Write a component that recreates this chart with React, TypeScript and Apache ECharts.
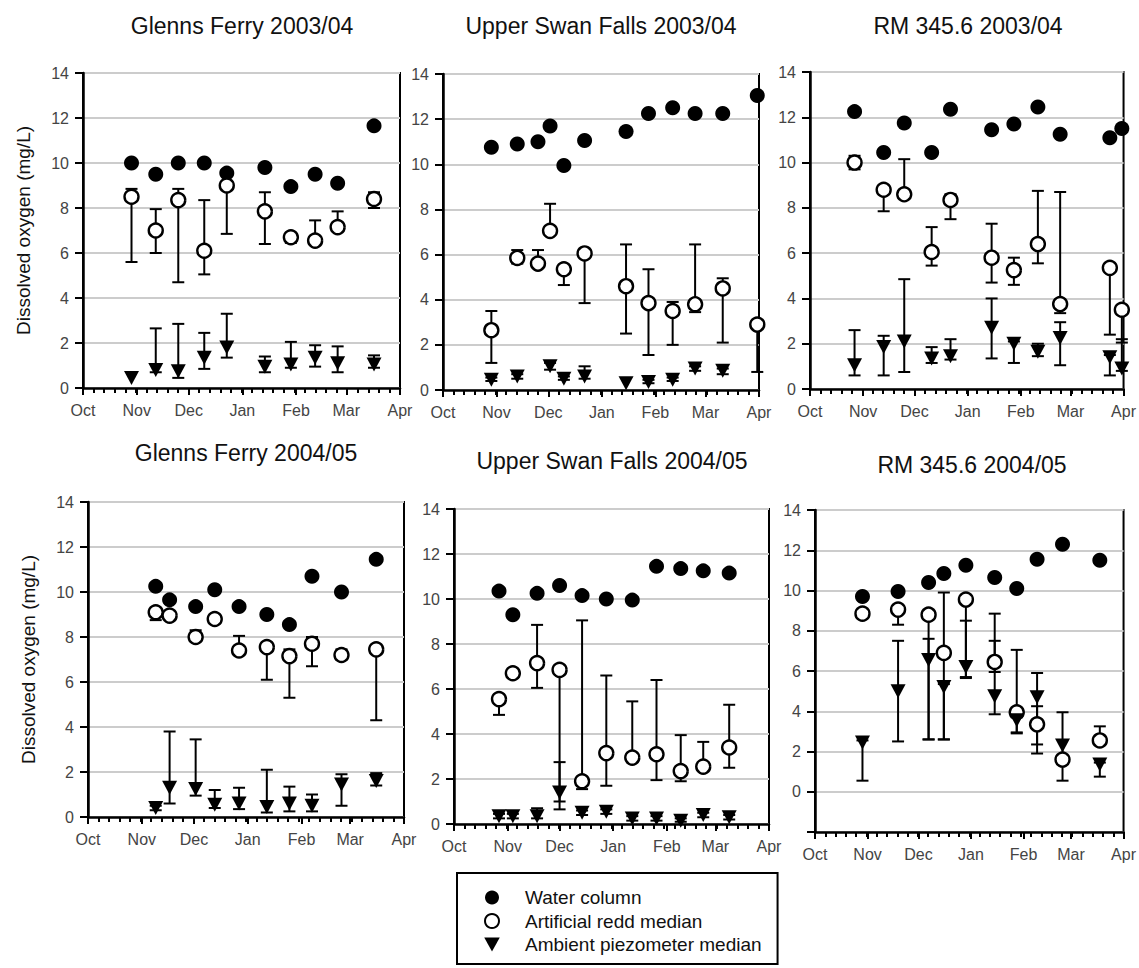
import React, { useEffect, useRef } from 'react';
import * as echarts from 'echarts';

// ---------- DATA ----------
const MONTHS = ['Jan', 'Feb', 'Mar', 'Apr', 'May', 'Jun', 'Jul', 'Aug', 'Sep', 'Oct', 'Nov', 'Dec'];
const SERIES_NAMES = ['Water column', 'Artificial redd median', 'Ambient piezometer median'];
const Y_NAME = 'Dissolved oxygen (mg/L)';

// Glenns Ferry 2003/04
const gf03Dates = ['2003-10-29', '2003-11-12', '2003-11-25', '2003-12-10', '2003-12-23', '2004-01-14', '2004-01-29', '2004-02-12', '2004-02-25', '2004-03-17'];
const gf03Water = [10.0, 9.5, 10.0, 10.0, 9.55, 9.8, 8.95, 9.5, 9.1, 11.65];
const gf03Redd = [8.5, 7.0, 8.35, 6.1, 9.0, 7.85, 6.7, 6.55, 7.15, 8.4];
const gf03ReddHi = [8.85, 7.95, 8.85, 8.35, 9.1, 8.7, 6.8, 7.45, 7.85, 8.7];
const gf03ReddLo = [5.6, 6.0, 4.7, 5.05, 6.85, 6.4, 6.45, 6.5, 7.0, 8.0];
const gf03Piezo = [0.45, 0.8, 0.75, 1.35, 1.8, 0.95, 1.05, 1.35, 1.1, 1.05];
const gf03PiezoHi = [null, 2.65, 2.85, 2.45, 3.3, 1.4, 2.05, 1.9, 1.85, 1.45];
const gf03PiezoLo = [null, 0.7, 0.45, 0.85, 1.35, 0.7, 0.9, 0.95, 0.7, 0.9];

// Upper Swan Falls 2003/04
const usf03Dates = ['2003-10-29', '2003-11-13', '2003-11-25', '2003-12-02', '2003-12-10', '2003-12-22', '2004-01-15', '2004-01-28', '2004-02-11', '2004-02-24', '2004-03-11', '2004-03-31'];
const usf03Water = [10.75, 10.9, 11.0, 11.7, 9.95, 11.05, 11.45, 12.25, 12.5, 12.25, 12.25, 13.05];
const usf03Redd = [2.65, 5.85, 5.6, 7.05, 5.35, 6.05, 4.6, 3.85, 3.5, 3.8, 4.5, 2.9];
const usf03ReddHi = [3.5, 6.2, 6.2, 8.25, 5.5, 6.15, 6.45, 5.35, 3.9, 6.45, 4.95, 3.0];
const usf03ReddLo = [1.2, 5.6, 5.45, 6.9, 4.65, 3.85, 2.5, 1.55, 2.0, 3.45, 2.1, 0.8];
const usf03Piezo = [0.45, 0.6, null, 1.05, 0.5, 0.6, 0.3, 0.35, 0.45, 0.95, 0.85, null];
const usf03PiezoHi = [0.55, 0.7, null, 1.2, 0.6, 1.05, null, 0.45, 0.55, 1.05, 0.95, null];
const usf03PiezoLo = [0.4, 0.5, null, 0.9, 0.45, 0.5, null, 0.3, 0.4, 0.85, 0.7, null];

// RM 345.6 2003/04
const rm03Dates = ['2003-10-27', '2003-11-13', '2003-11-25', '2003-12-11', '2003-12-22', '2004-01-15', '2004-01-28', '2004-02-11', '2004-02-24', '2004-03-24', '2004-03-31'];
const rm03Water = [12.25, 10.45, 11.75, 10.45, 12.35, 11.45, 11.7, 12.45, 11.25, 11.1, 11.5];
const rm03Redd = [10.0, 8.8, 8.6, 6.05, 8.35, 5.8, 5.25, 6.4, 3.75, 5.35, 3.5];
const rm03ReddHi = [10.3, 8.9, 10.15, 7.15, 8.6, 7.3, 5.8, 8.75, 8.7, 5.45, 3.6];
const rm03ReddLo = [9.7, 7.85, 8.5, 5.45, 7.5, 4.7, 4.6, 5.55, 3.35, 2.4, 2.05];
const rm03Piezo = [1.05, 1.85, 2.1, 1.35, 1.45, 2.7, 2.0, 1.65, 2.25, 1.4, 0.9];
const rm03PiezoHi = [2.6, 2.35, 4.85, 1.85, 2.2, 4.0, 2.1, 2.0, 2.95, 1.5, 2.2];
const rm03PiezoLo = [0.6, 0.6, 0.75, 1.15, 1.3, 1.35, 1.15, 1.45, 1.05, 0.6, 0.8];

// Glenns Ferry 2004/05
const gf04Dates = ['2004-11-09', '2004-11-17', '2004-12-02', '2004-12-13', '2004-12-27', '2005-01-12', '2005-01-25', '2005-02-07', '2005-02-24', '2005-03-16'];
const gf04Water = [10.25, 9.65, 9.35, 10.1, 9.35, 9.0, 8.55, 10.7, 10.0, 11.45];
const gf04Redd = [9.1, 8.95, 8.0, 8.8, 7.4, 7.55, 7.15, 7.7, 7.2, 7.45];
const gf04ReddHi = [9.15, 9.05, 8.3, 8.9, 8.05, 7.6, 7.45, 8.0, 7.45, 7.5];
const gf04ReddLo = [8.75, 8.9, 7.9, 8.7, 7.2, 6.1, 5.3, 6.7, 7.0, 4.3];
const gf04Piezo = [0.4, 1.3, 1.25, 0.55, 0.6, 0.45, 0.6, 0.5, 1.45, 1.6];
const gf04PiezoHi = [0.5, 3.8, 3.45, 1.2, 1.3, 2.1, 1.35, 1.0, 1.9, 1.95];
const gf04PiezoLo = [0.3, 0.6, 0.95, 0.4, 0.35, 0.2, 0.25, 0.25, 0.5, 1.4];

// Upper Swan Falls 2004/05
const usf04Dates = ['2004-10-27', '2004-11-04', '2004-11-18', '2004-12-01', '2004-12-14', '2004-12-28', '2005-01-12', '2005-01-26', '2005-02-09', '2005-02-22', '2005-03-09'];
const usf04Water = [10.35, 9.3, 10.25, 10.6, 10.15, 10.0, 9.95, 11.45, 11.35, 11.25, 11.15];
const usf04Redd = [5.55, 6.7, 7.15, 6.85, 1.9, 3.15, 2.95, 3.1, 2.35, 2.55, 3.4];
const usf04ReddHi = [5.65, 6.8, 8.85, 6.95, 9.05, 6.6, 5.45, 6.4, 3.95, 3.65, 5.3];
const usf04ReddLo = [4.85, 6.6, 6.05, 0.65, 1.55, 1.7, 2.75, 1.95, 1.9, 2.4, 2.5];
const usf04Piezo = [0.35, 0.35, 0.35, 1.4, 0.5, 0.55, 0.25, 0.25, 0.15, 0.4, 0.3];
const usf04PiezoHi = [0.45, 0.45, 0.7, 2.75, 0.6, 0.65, 0.35, 0.35, 0.25, 0.5, 0.4];
const usf04PiezoLo = [0.25, 0.25, 0.25, 1.0, 0.4, 0.45, 0.15, 0.15, 0.1, 0.3, 0.2];

// RM 345.6 2004/05
const rm04Dates = ['2004-10-29', '2004-11-19', '2004-12-07', '2004-12-16', '2004-12-29', '2005-01-15', '2005-01-28', '2005-02-09', '2005-02-24', '2005-03-18'];
const rm04Water = [9.7, 9.95, 10.4, 10.85, 11.25, 10.65, 10.1, 11.55, 12.3, 11.5];
const rm04Redd = [8.85, 9.05, 8.8, 6.9, 9.55, 6.45, 3.95, 3.35, 1.6, 2.55];
const rm04ReddHi = [8.95, 9.15, 8.9, 9.9, 9.65, 8.85, 7.05, 4.25, 1.7, 3.25];
const rm04ReddLo = [8.75, 8.3, 2.6, 2.6, 5.65, 5.95, 2.9, 1.9, 0.55, 2.4];
const rm04Piezo = [2.45, 5.0, 6.55, 5.2, 6.2, 4.75, 3.55, 4.7, 2.3, 1.35];
const rm04PiezoHi = [2.55, 7.5, 7.6, 5.35, 8.5, 7.5, 3.7, 5.9, 3.95, 1.45];
const rm04PiezoLo = [0.55, 2.5, 2.6, 2.6, 5.7, 3.85, 2.95, 2.35, 1.4, 0.75];

const panelsData = [
  { title: 'Glenns Ferry 2003/04', start: '2003-10-01', end: '2004-04-01', yMin: 0, dates: gf03Dates, water: gf03Water, redd: gf03Redd, reddHi: gf03ReddHi, reddLo: gf03ReddLo, piezo: gf03Piezo, piezoHi: gf03PiezoHi, piezoLo: gf03PiezoLo },
  { title: 'Upper Swan Falls 2003/04', start: '2003-10-01', end: '2004-04-01', yMin: 0, dates: usf03Dates, water: usf03Water, redd: usf03Redd, reddHi: usf03ReddHi, reddLo: usf03ReddLo, piezo: usf03Piezo, piezoHi: usf03PiezoHi, piezoLo: usf03PiezoLo },
  { title: 'RM 345.6 2003/04', start: '2003-10-01', end: '2004-04-01', yMin: 0, dates: rm03Dates, water: rm03Water, redd: rm03Redd, reddHi: rm03ReddHi, reddLo: rm03ReddLo, piezo: rm03Piezo, piezoHi: rm03PiezoHi, piezoLo: rm03PiezoLo },
  { title: 'Glenns Ferry 2004/05', start: '2004-10-01', end: '2005-04-01', yMin: 0, dates: gf04Dates, water: gf04Water, redd: gf04Redd, reddHi: gf04ReddHi, reddLo: gf04ReddLo, piezo: gf04Piezo, piezoHi: gf04PiezoHi, piezoLo: gf04PiezoLo },
  { title: 'Upper Swan Falls 2004/05', start: '2004-10-01', end: '2005-04-01', yMin: 0, dates: usf04Dates, water: usf04Water, redd: usf04Redd, reddHi: usf04ReddHi, reddLo: usf04ReddLo, piezo: usf04Piezo, piezoHi: usf04PiezoHi, piezoLo: usf04PiezoLo },
  { title: 'RM 345.6 2004/05', start: '2004-10-01', end: '2005-04-01', yMin: -2, dates: rm04Dates, water: rm04Water, redd: rm04Redd, reddHi: rm04ReddHi, reddLo: rm04ReddLo, piezo: rm04Piezo, piezoHi: rm04PiezoHi, piezoLo: rm04PiezoLo },
];

// ---------- LAYOUT ----------
const layouts = [
  { left: 83, top: 73, width: 317, height: 315, tx: 242, ty: 26, yName: true },
  { left: 443, top: 74, width: 316, height: 316, tx: 601, ty: 26, yName: false },
  { left: 810, top: 72, width: 316, height: 317, tx: 968, ty: 26, yName: false },
  { left: 88, top: 502, width: 316, height: 315, tx: 246, ty: 453, yName: true },
  { left: 454, top: 509, width: 315, height: 315, tx: 612, ty: 461, yName: false },
  { left: 815, top: 510, width: 316, height: 322, tx: 972, ty: 465, yName: false },
];

const FONT = '"Liberation Sans", Arial, Helvetica, sans-serif';
const TRI = 'path://M0,0 L10,0 L5,9 Z';
const MINOR_STEPS = 30; // minor tick divisions across the 6-month span

const ts = (s: string) => {
  const [y, m, d] = s.split('-').map(Number);
  return new Date(y, m - 1, d).getTime();
};

function errRender(params: any, api: any) {
  const x = api.value(0);
  const lo = api.value(1);
  const hi = api.value(2);
  const top = api.coord([x, hi]);
  const bot = api.coord([x, lo]);
  const w = 6;
  const st = { stroke: '#000', lineWidth: 2 };
  return {
    type: 'group',
    children: [
      { type: 'line', shape: { x1: top[0], y1: top[1], x2: bot[0], y2: bot[1] }, style: st },
      { type: 'line', shape: { x1: top[0] - w, y1: top[1], x2: top[0] + w, y2: top[1] }, style: st },
      { type: 'line', shape: { x1: bot[0] - w, y1: bot[1], x2: bot[0] + w, y2: bot[1] }, style: st },
    ],
  };
}

export default function App() {
  const ref = useRef<HTMLDivElement>(null);
  useEffect(() => {
    const chart = echarts.init(ref.current!, null, { renderer: 'svg' });
    const grid: any[] = [];
    const xAxis: any[] = [];
    const yAxis: any[] = [];
    const series: any[] = [];
    const graphic: any[] = [];

    panelsData.forEach((p, i) => {
      const L = layouts[i];
      grid.push({ left: L.left, top: L.top, width: L.width, height: L.height, show: true, borderColor: '#000', borderWidth: 2, backgroundColor: '#fff' });
      xAxis.push({
        type: 'time', gridIndex: i, min: ts(p.start), max: ts(p.end), splitNumber: 6,
        axisLine: { show: true, onZero: false, lineStyle: { color: '#000', width: 2.5 } },
        axisTick: { show: true, length: 7, lineStyle: { color: '#000', width: 2 } },
        axisLabel: {
          formatter: (v: number) => MONTHS[new Date(v).getMonth()],
          color: '#444', fontSize: 16, fontFamily: FONT, margin: 14,
          showMinLabel: true, showMaxLabel: true, hideOverlap: false, fontWeight: 'normal',
        },
        splitLine: { show: false },
        z: 3,
      });
      yAxis.push({
        type: 'value', gridIndex: i, min: p.yMin, max: 14, interval: 2,
        axisLine: { show: true, onZero: false, lineStyle: { color: '#000', width: 2.5 } },
        axisTick: { show: true, length: 8, lineStyle: { color: '#000', width: 2 } },
        axisLabel: { color: '#444', fontSize: 16, fontFamily: FONT, margin: 14, formatter: (v: number) => (v < 0 ? '' : String(v)) },
        splitLine: { show: true, lineStyle: { color: '#cccccc', width: 2 } },
        name: L.yName ? Y_NAME : '',
        nameLocation: 'middle', nameGap: 50,
        nameTextStyle: { fontSize: 19, color: '#111', fontFamily: FONT },
      });
      graphic.push({
        type: 'text', x: L.tx, y: L.ty,
        style: { text: p.title, fontSize: 23, fontWeight: 'normal', fontFamily: FONT, fill: '#111', align: 'center', verticalAlign: 'middle' },
      });

      const reddErr: any[] = [];
      const piezoErr: any[] = [];
      const water: any[] = [];
      const redd: any[] = [];
      const piezo: any[] = [];
      p.dates.forEach((d, j) => {
        const t = ts(d);
        if (p.reddLo[j] != null && p.reddHi[j] != null) reddErr.push([t, p.reddLo[j], p.reddHi[j]]);
        if (p.piezoLo[j] != null && p.piezoHi[j] != null) piezoErr.push([t, p.piezoLo[j], p.piezoHi[j]]);
        if (p.water[j] != null) water.push([t, p.water[j]]);
        if (p.redd[j] != null) redd.push([t, p.redd[j]]);
        if (p.piezo[j] != null) piezo.push([t, p.piezo[j]]);
      });

      series.push({ type: 'custom', xAxisIndex: i, yAxisIndex: i, renderItem: errRender, data: reddErr, encode: { x: 0, y: [1, 2] }, z: 2, silent: true });
      series.push({ type: 'custom', xAxisIndex: i, yAxisIndex: i, renderItem: errRender, data: piezoErr, encode: { x: 0, y: [1, 2] }, z: 2, silent: true });
      series.push({ name: SERIES_NAMES[0], type: 'scatter', xAxisIndex: i, yAxisIndex: i, data: water, symbol: 'circle', symbolSize: 15, itemStyle: { color: '#000', opacity: 1 }, z: 3 });
      series.push({ name: SERIES_NAMES[1], type: 'scatter', xAxisIndex: i, yAxisIndex: i, data: redd, symbol: 'circle', symbolSize: 14, itemStyle: { color: '#fff', borderColor: '#000', borderWidth: 2.4, opacity: 1 }, z: 4 });
      series.push({ name: SERIES_NAMES[2], type: 'scatter', xAxisIndex: i, yAxisIndex: i, data: piezo, symbol: TRI, symbolSize: [15, 14], itemStyle: { color: '#000', opacity: 1 }, z: 5 });
    });

    // secondary bottom axes carrying only the minor ticks
    panelsData.forEach((p, i) => {
      xAxis.push({
        type: 'value', gridIndex: i, position: 'bottom', min: 0, max: MINOR_STEPS, interval: 1,
        axisLine: { show: false, onZero: false },
        axisTick: { show: true, inside: false, length: 5, lineStyle: { color: '#000', width: 2 } },
        axisLabel: { show: false },
        splitLine: { show: false },
        silent: true,
        z: 4,
      });
    });

    chart.setOption({
      animation: false,
      backgroundColor: '#fff',
      textStyle: { fontFamily: FONT },
      grid, xAxis, yAxis, series, graphic,
      legend: {
        data: SERIES_NAMES,
        orient: 'vertical',
        left: 457, top: 873,
        padding: [15, 16, 10, 27],
        itemWidth: 56, itemHeight: 14, itemGap: 4.5,
        borderColor: '#000', borderWidth: 2, backgroundColor: '#fff',
        selectedMode: false,
        textStyle: { fontSize: 19, color: '#111', fontFamily: FONT },
      },
    });
    return () => chart.dispose();
  }, []);
  return <div ref={ref} style={{ position: 'absolute', left: 0, top: 0, width: 1139, height: 968 }} />;
}
